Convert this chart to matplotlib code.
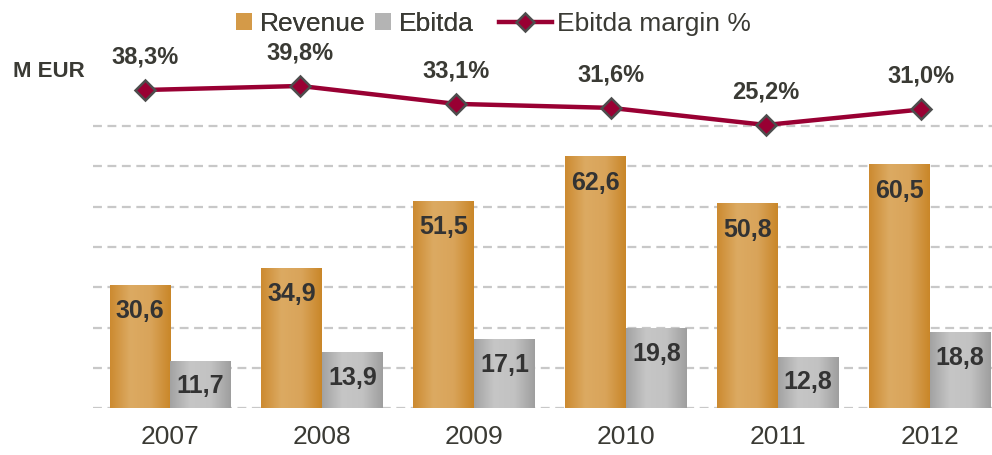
import numpy as np
import matplotlib.pyplot as plt
from matplotlib.colors import LinearSegmentedColormap
from matplotlib.lines import Line2D
from matplotlib.patches import Patch

plt.rcParams['font.family'] = ['Liberation Sans', 'DejaVu Sans']

years = ['2007', '2008', '2009', '2010', '2011', '2012']
revenue = [30.6, 34.9, 51.5, 62.6, 50.8, 60.5]
ebitda = [11.7, 13.9, 17.1, 19.8, 12.8, 18.8]
margin = [38.3, 39.8, 33.1, 31.6, 25.2, 31.0]

txt = '#3a3a34'
line_col = '#990033'
orange = LinearSegmentedColormap.from_list('og', ['#cc8a30', '#dcaa62', '#d9a45a', '#c98628'])
grey = LinearSegmentedColormap.from_list('gy', ['#a2a2a2', '#c6c6c6', '#c2c2c2', '#9e9e9e'])

fig = plt.figure(figsize=(9.92, 4.55), dpi=100)
rect = [0.094, 0.103, 0.906, 0.765]
ax = fig.add_axes(rect)

x = np.arange(len(years))
w = 0.4
grad = np.linspace(0, 1, 256).reshape(1, -1)


def shaded_bars(xs, vals, cmap):
    bars = ax.bar(xs, vals, w, color=cmap(0.5), zorder=2)
    for b in bars:
        x0, y0 = b.get_x(), b.get_y()
        im = ax.imshow(grad, cmap=cmap, aspect='auto', zorder=2.1,
                       extent=[x0, x0 + b.get_width(), y0, y0 + b.get_height()])
        im.set_clip_path(b)
    return bars


rev_bars = shaded_bars(x - w / 2, revenue, orange)
ebi_bars = shaded_bars(x + w / 2, ebitda, grey)

for i in range(len(years)):
    ax.text(x[i] - w / 2, revenue[i] - 6.6, f'{revenue[i]:.1f}'.replace('.', ','),
            ha='center', va='center', fontsize=18, fontweight='bold', color='#333333', zorder=3)
    ax.text(x[i] + w / 2, ebitda[i] - 6.3, f'{ebitda[i]:.1f}'.replace('.', ','),
            ha='center', va='center', fontsize=18, fontweight='bold', color='#333333', zorder=3)

for g in range(0, 80, 10):
    ax.axhline(g, color='#c8c8c8', lw=1.6, ls=(0, (4, 2.5)), zorder=1)

ax.set_xlim(-0.507, 5.41)
ax.set_ylim(0, 86.4)
ax.set_xticks(x)
ax.set_xticklabels(years, fontsize=19, color=txt)
ax.tick_params(length=0, pad=12)
ax.set_yticks([])
for s in ax.spines.values():
    s.set_visible(False)

# margin line on its own overlay axes (secondary scale)
ax2 = fig.add_axes(rect, facecolor='none')
ax2.set_xlim(-0.335, 5.457)
ax2.set_ylim(-80.8, 49.5)
ax2.plot(x, margin, color=line_col, lw=3.2, marker='D', ms=10,
         mfc=line_col, mec='#4d4d4d', mew=1.8, zorder=5, clip_on=False)
for i, m in enumerate(margin):
    ax2.annotate(f'{m:.1f}%'.replace('.', ','), (x[i], m), xytext=(0, 24),
                 textcoords='offset points', ha='center', va='center',
                 fontsize=17, fontweight='bold', color=txt)
ax2.set_xticks([])
ax2.set_yticks([])
for s in ax2.spines.values():
    s.set_visible(False)

fig.text(0.013, 0.842, 'M EUR', fontsize=16, fontweight='bold', color=txt, va='center')

# legend: bar swatches and the margin line
h1 = [Patch(facecolor='#d49a48', label='Revenue'), Patch(facecolor='#b4b4b4', label='Ebitda')]
leg1 = fig.legend(handles=h1, loc='center left', bbox_to_anchor=(0.238, 0.947), ncol=2,
                  frameon=False, fontsize=19, handlelength=0.6, handleheight=0.6,
                  handletextpad=0.3, columnspacing=0.35, labelcolor=txt, borderaxespad=0,
                  borderpad=0)
h2 = [Line2D([0], [0], color=line_col, lw=3.2, marker='D', ms=9, mfc=line_col,
             mec='#4d4d4d', mew=1.8, label='Ebitda margin %')]
fig.legend(handles=h2, loc='center left', bbox_to_anchor=(0.503, 0.947), frameon=False,
           fontsize=19, handlelength=2.0, handletextpad=0.2, labelcolor=txt,
           borderaxespad=0, borderpad=0)
fig.add_artist(leg1)

fig.savefig('out.png', dpi=100)
